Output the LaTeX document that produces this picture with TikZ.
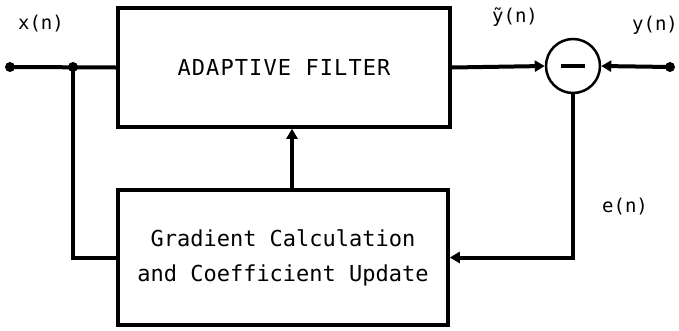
\documentclass[tikz,border=0pt]{standalone}
\usepackage{fontspec}
\newfontfamily\plotfont{DejaVu Sans Mono}
\newfontfamily\plotwide[LetterSpace=5]{DejaVu Sans Mono}
\usetikzlibrary{arrows.meta}
\begin{document}
\begin{tikzpicture}[x=1pt,y=-1pt, line width=4pt,
  box/.style={draw, line width=3.5pt, inner sep=0pt, align=center,
              font=\plotfont\fontsize{22}{35}\selectfont},
  lbl/.style={font=\plotfont\fontsize{19}{23}\selectfont, inner sep=0pt},
  dot/.style={circle, fill, inner sep=0pt, minimum size=10pt},
  arr/.style={-{Triangle[length=10pt,width=11pt]}}]
\useasboundingbox (0,0) rectangle (679,330);
\node[box, minimum width=332pt, minimum height=119pt, font=\plotwide\fontsize{22}{35}\selectfont] (filt) at (284,67.5) {ADAPTIVE FILTER};
\node[box, minimum width=330pt, minimum height=135pt] (grad) at (283,257.5) {Gradient Calculation\\and Coefficient Update};
\node[draw, circle, line width=2.5pt, minimum size=54pt, inner sep=0pt] (sum) at (573,66) {};
\coordinate (ml) at (561,66);
\coordinate (mr) at (585,66);
\draw[line width=4pt] (ml) -- (mr);
\node[dot] (in) at (10,67) {};
\node[dot] (jn) at (73,67) {};
\node[dot] (out) at (670,67) {};
\coordinate (ax) at (292,0);
\draw (in.center) -- (filt.west);
\draw (jn.center) |- (grad.west);
\draw[arr] (filt.east) -- (sum.west);
\draw[arr] (out.center) -- (sum.east);
\draw[arr] (grad.north -| ax) -- (filt.south -| ax);
\draw[arr] (sum.south) |- (grad.east);
\node[lbl] (xl) at (41,24) {x(n)};
\node[lbl] (yt) at (515,17) {ỹ(n)};
\node[lbl] (yl) at (655,25) {y(n)};
\node[lbl] (el) at (625,207) {e(n)};
\end{tikzpicture}
\end{document}
